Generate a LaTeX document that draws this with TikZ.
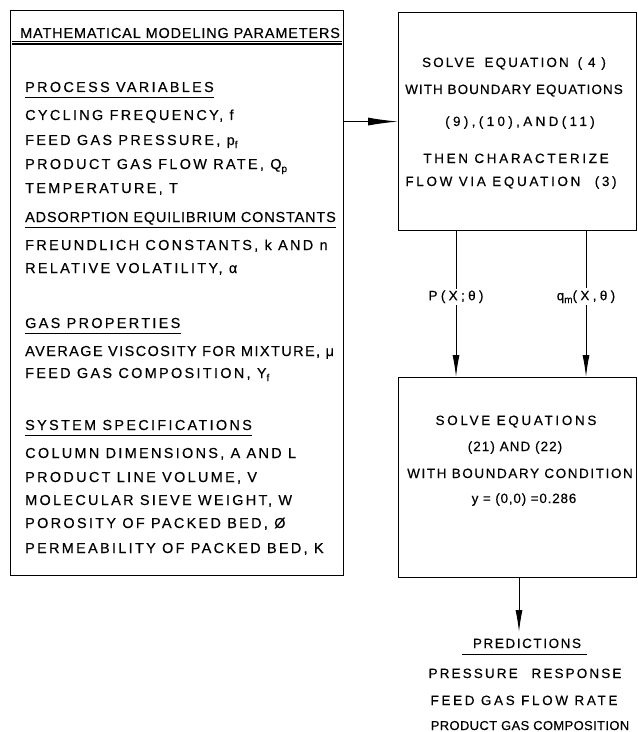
\documentclass[tikz,border=0pt]{standalone}
\usepackage{fontspec}
\setmainfont[LetterSpace=12,FakeBold=0.4]{Liberation Sans}
\usetikzlibrary{arrows.meta}
\newcommand{\lowsub}[1]{\raisebox{-0.4ex}{\fontsize{10}{10}\selectfont #1}}
\newcommand{\ls}[1]{\addfontfeature{LetterSpace=#1}}
\begin{document}
\begin{tikzpicture}[x=1bp,y=-1bp,
  txt/.style={anchor=base west, inner sep=0pt, font=\fontsize{14.5}{15}\selectfont\ls{16}},
  ctxt/.style={anchor=base, inner sep=0pt, font=\fontsize{13.5}{14}\selectfont},
  box/.style={draw, line width=1.1bp, inner sep=0pt, anchor=north west},
  ul/.style={line width=0.9bp},
  arr/.style={-{Latex[length=22bp,width=7bp]}, line width=1bp},
  lbl/.style={fill=white, inner sep=2pt, font=\fontsize{13.5}{14}\selectfont\ls{25}}]
\useasboundingbox (0,0) rectangle (638,732);

% boxes
\node[box, minimum width=333bp, minimum height=565bp] (params) at (10,10) {};
\node[box, minimum width=238bp, minimum height=218bp] (solveA) at (398,12) {};
\node[box, minimum width=238bp, minimum height=200bp] (solveB) at (398,377) {};

% header
\node[txt, font=\fontsize{14.5}{15}\selectfont\ls{6}] (hdr) at (20,38) {MATHEMATICAL MODELING PARAMETERS};
\draw[ul] (12,41) -- (342,41);
\draw[ul, line width=1.4bp] (12,44) -- (342,44);

% process variables
\node[txt] (pv) at (25,92) {PROCESS VARIABLES};
\draw[ul] ([yshift=-5bp]pv.base west) -- ([yshift=-5bp]pv.base east);
\node[txt] (pv1) at (25,120) {CYCLING FREQUENCY, f};
\node[txt] (pv2) at (25,145) {FEED GAS PRESSURE, p\lowsub{f}};
\node[txt] (pv3) at (25,169) {PRODUCT GAS FLOW RATE, Q\lowsub{p}};
\node[txt] (pv4) at (25,193) {TEMPERATURE, T};

% adsorption
\node[txt, font=\fontsize{14.5}{15}\selectfont\ls{6}] (ae) at (25,222) {ADSORPTION EQUILIBRIUM CONSTANTS};
\draw[ul] ([yshift=-5bp]ae.base west) -- ([yshift=-5bp]ae.base east);
\node[txt] (ae1) at (25,250) {FREUNDLICH CONSTANTS, k AND n};
\node[txt] (ae2) at (25,273) {RELATIVE VOLATILITY, α};

% gas properties
\node[txt] (gp) at (25,328) {GAS PROPERTIES};
\draw[ul] ([yshift=-5bp]gp.base west) -- ([yshift=-5bp]gp.base east);
\node[txt, font=\fontsize{14.5}{15}\selectfont\ls{10}] (gp1) at (25,356) {AVERAGE VISCOSITY FOR MIXTURE, μ};
\node[txt] (gp2) at (25,378) {FEED GAS COMPOSITION, Y\lowsub{f}};

% system specifications
\node[txt] (ss) at (25,430) {SYSTEM SPECIFICATIONS};
\draw[ul] ([yshift=-5bp]ss.base west) -- ([yshift=-5bp]ss.base east);
\node[txt] (ss1) at (25,458) {COLUMN DIMENSIONS, A AND L};
\node[txt] (ss2) at (25,482) {PRODUCT LINE VOLUME, V};
\node[txt] (ss3) at (25,505) {MOLECULAR SIEVE WEIGHT, W};
\node[txt] (ss4) at (25,528) {POROSITY OF PACKED BED, Ø};
\node[txt] (ss5) at (25,553) {PERMEABILITY OF PACKED BED, K};

% solve box A text
\node[ctxt, font=\fontsize{13.5}{14}\selectfont\ls{16}] (a1) at (514,67) {SOLVE\hspace{4bp} EQUATION\hspace{3bp} ( 4 )};
\node[ctxt, font=\fontsize{13.5}{14}\selectfont\ls{8}] (a2) at (514,94) {WITH BOUNDARY EQUATIONS};
\node[ctxt, font=\fontsize{13.5}{14}\selectfont\ls{25}] (a3) at (520,126) {(9),(10),AND(11)};
\node[ctxt, font=\fontsize{13.5}{14}\selectfont\ls{20}] (a4) at (516,163) {THEN CHARACTERIZE};
\node[ctxt, font=\fontsize{13.5}{14}\selectfont\ls{20}] (a5) at (511,186) {FLOW VIA EQUATION\hspace{8bp} (3)};

% solve box B text
\node[ctxt, font=\fontsize{13.5}{14}\selectfont\ls{20}] (b1) at (516,425) {SOLVE EQUATIONS};
\node[ctxt, font=\fontsize{13.5}{14}\selectfont\ls{8}] (b2) at (515,451) {(21) AND (22)};
\node[ctxt] (b3) at (520,478) {WITH BOUNDARY CONDITION};
\node[ctxt, font=\fontsize{13.5}{14}\selectfont\ls{6}] (b4) at (524,503) {y = (0,0) =0.286};

% predictions
\node[ctxt] (pr) at (527,648) {PREDICTIONS};
\draw[ul] (462,654) -- (587,654);
\node[ctxt, font=\fontsize{13.5}{14}\selectfont\ls{16}] (pr1) at (525,678) {PRESSURE\hspace{8bp} RESPONSE};
\node[ctxt, font=\fontsize{13.5}{14}\selectfont\ls{20}] (pr2) at (524,705) {FEED GAS FLOW RATE};
\node[ctxt, font=\fontsize{13}{14}\selectfont\ls{3}] (pr3) at (530,730) {PRODUCT GAS COMPOSITION};

% connectors
\draw[arr, -{Latex[length=30bp,width=8bp]}] (params.east |- solveA.west) -- (solveA.west);
\draw[arr] (solveA.south -| 456,0) -- node[lbl, pos=0.45] {P(X;θ)} (solveB.north -| 456,0);
\draw[arr] (solveA.south -| 586,0) -- node[lbl, pos=0.45] {q\lowsub{m}(X,θ)} (solveB.north -| 586,0);
\coordinate (predtop) at (519,632);
\draw[arr] (solveB.south -| predtop) -- (predtop);
\end{tikzpicture}
\end{document}
